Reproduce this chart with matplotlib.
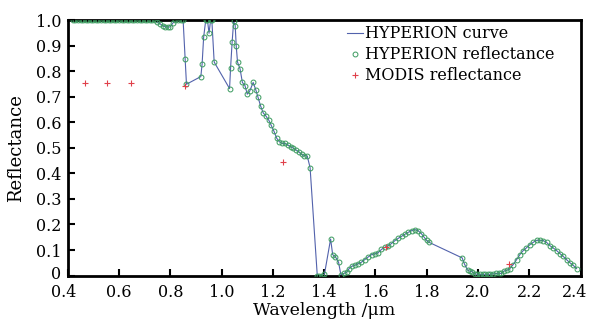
import matplotlib
matplotlib.use("Agg")
import matplotlib.pyplot as plt
from matplotlib.transforms import ScaledTranslation

# HYPERION bands (um) and reflectance
hyp_wl = [
    0.42, 0.43, 0.44, 0.45, 0.46, 0.47, 0.48, 0.49, 0.50, 0.51, 0.52, 0.53,
    0.54, 0.55, 0.56, 0.57, 0.58, 0.59, 0.60, 0.61, 0.62, 0.63, 0.64, 0.65,
    0.66, 0.67, 0.68, 0.69, 0.70, 0.71, 0.72, 0.73, 0.74,
    0.75, 0.76, 0.77, 0.78, 0.79, 0.80, 0.81, 0.82, 0.83, 0.84, 0.85,
    0.858, 0.863, 0.919, 0.924, 0.930, 0.938, 0.945, 0.951, 0.957, 0.962,
    0.971, 1.031, 1.035, 1.041, 1.047, 1.053, 1.057, 1.062, 1.072, 1.081,
    1.091, 1.100, 1.110, 1.123, 1.133, 1.142, 1.152, 1.162, 1.173, 1.184,
    1.193, 1.204, 1.215, 1.225, 1.236, 1.247, 1.257, 1.270, 1.280, 1.290,
    1.300, 1.312, 1.323, 1.334, 1.345, 1.373, 1.381, 1.391, 1.401, 1.425,
    1.433, 1.444, 1.456, 1.465, 1.477, 1.488, 1.497, 1.507, 1.519, 1.532,
    1.545, 1.558, 1.572, 1.585, 1.597, 1.610, 1.623, 1.637, 1.650, 1.662,
    1.676, 1.689, 1.702, 1.714, 1.727, 1.741, 1.754, 1.766, 1.779, 1.789,
    1.799, 1.809, 1.938, 1.946, 1.959, 1.968, 1.978, 1.987, 1.997, 2.008,
    2.018, 2.028, 2.038, 2.048, 2.058, 2.071, 2.080, 2.091, 2.100, 2.113,
    2.123, 2.137, 2.150, 2.163, 2.176, 2.188, 2.202, 2.215, 2.228, 2.241,
    2.254, 2.267, 2.280, 2.293, 2.306, 2.319, 2.332, 2.345, 2.358, 2.371,
    2.384,
]
hyp_refl = [
    1.0, 1.0, 1.0, 1.0, 1.0, 1.0, 1.0, 1.0, 1.0, 1.0, 1.0, 1.0,
    1.0, 1.0, 1.0, 1.0, 1.0, 1.0, 1.0, 1.0, 1.0, 1.0, 1.0, 1.0,
    1.0, 1.0, 1.0, 1.0, 1.0, 1.0, 1.0, 1.0, 1.0,
    0.993, 0.987, 0.980, 0.975, 0.974, 0.975, 0.990, 1.0, 1.0, 1.0, 1.0,
    0.850, 0.750, 0.780, 0.830, 0.935, 1.0, 1.0, 0.950, 1.0, 1.0,
    0.837, 0.733, 0.814, 0.915, 0.997, 0.980, 0.900, 0.837, 0.810, 0.757,
    0.745, 0.711, 0.724, 0.757, 0.729, 0.698, 0.665, 0.638, 0.625, 0.609,
    0.590, 0.566, 0.538, 0.525, 0.518, 0.518, 0.512, 0.505, 0.499, 0.492,
    0.486, 0.475, 0.470, 0.468, 0.423, 0.0, 0.0, 0.0, 0.005, 0.143,
    0.082, 0.073, 0.052, 0.003, 0.008, 0.013, 0.027, 0.036, 0.040, 0.046,
    0.052, 0.062, 0.073, 0.082, 0.085, 0.089, 0.102, 0.111, 0.117, 0.125,
    0.137, 0.146, 0.154, 0.161, 0.169, 0.176, 0.180, 0.176, 0.164, 0.151,
    0.138, 0.130, 0.069, 0.047, 0.021, 0.017, 0.014, 0.006, 0.005, 0.004,
    0.004, 0.005, 0.004, 0.005, 0.006, 0.008, 0.009, 0.008, 0.017, 0.021,
    0.026, 0.043, 0.062, 0.082, 0.098, 0.108, 0.121, 0.130, 0.138, 0.138,
    0.137, 0.130, 0.117, 0.108, 0.098, 0.086, 0.075, 0.062, 0.050, 0.040,
    0.027,
]

# MODIS band centres and reflectance
modis_wl = [0.469, 0.555, 0.645, 0.858, 1.240, 1.640, 2.120]
modis_refl = [0.753, 0.755, 0.753, 0.742, 0.444, 0.110, 0.046]

xticks = [0.4, 0.6, 0.8, 1.0, 1.2, 1.4, 1.6, 1.8, 2.0, 2.2, 2.4]
yticks = [0, 0.1, 0.2, 0.3, 0.4, 0.5, 0.6, 0.7, 0.8, 0.9, 1.0]

plt.rcParams["font.family"] = ["DejaVu Serif"]

fig = plt.figure(figsize=(5.93, 3.22), dpi=100)
ax = fig.add_axes([0.1142, 0.1444, 0.865, 0.792])

ax.plot(hyp_wl, hyp_refl, color="#5262ac", lw=0.8, label="HYPERION curve",
        zorder=2)
ax.plot(hyp_wl, hyp_refl, ls="none", marker="o", ms=3.5, mfc="none",
        mec="#3a9a5e", mew=0.7, label="HYPERION reflectance", zorder=3)
ax.plot(modis_wl, modis_refl, ls="none", marker="+", ms=4, mew=0.8,
        color="#e0404a", label="MODIS reflectance", zorder=4)

ax.set_xlim(0.4, 2.4)
ax.set_ylim(0, 1.0)
ax.set_xticks(xticks)
ax.set_xticklabels([f"{t:.1f}" for t in xticks])
ax.set_yticks(yticks)
ax.set_yticklabels(["0"] + [f"{t:.1f}" for t in yticks[1:]])
ax.tick_params(direction="in", length=5, width=1.5, labelsize=11.5,
               top=False, right=False)
ax.tick_params(axis="x", pad=6)
ax.tick_params(axis="y", pad=4.5)
for s in ax.spines.values():
    s.set_linewidth(2)

# end labels nudged like the original so they don't collide / get cut
xlabels = ax.get_xticklabels()
for lab, dx in ((xlabels[0], -4), (xlabels[-1], -6)):
    lab.set_transform(lab.get_transform()
                      + ScaledTranslation(dx / 100, 0, fig.dpi_scale_trans))
ylab0 = ax.get_yticklabels()[0]
ylab0.set_transform(ylab0.get_transform()
                    + ScaledTranslation(0, 3 / 100, fig.dpi_scale_trans))

ax.set_xlabel("Wavelength /\u03bcm", fontsize=12.5, labelpad=0.5)
ax.set_ylabel("Reflectance", fontsize=13, labelpad=8)

ax.legend(loc="upper left", bbox_to_anchor=(0.536, 1.0), frameon=False,
          fontsize=11.5, handlelength=1.0, handletextpad=0.1,
          labelspacing=0.25, borderaxespad=0.2, borderpad=0.1)

fig.savefig("out.png", dpi=100)
